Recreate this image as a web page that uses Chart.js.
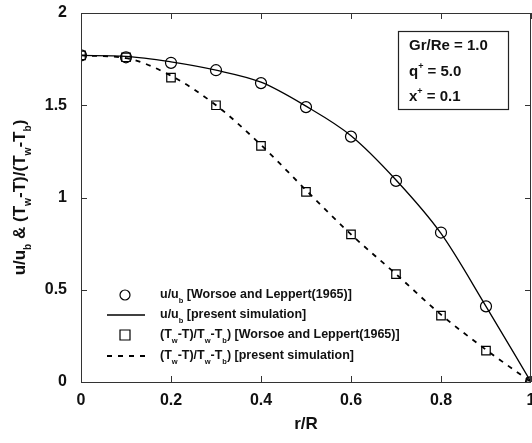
<!DOCTYPE html>
<html>
<head>
<meta charset="utf-8">
<script src="https://cdn.jsdelivr.net/npm/chart.js@4/dist/chart.umd.min.js"></script>
<style>
  html, body { margin: 0; padding: 0; background: #ffffff; }
  #wrap { width: 532px; height: 443px; }
</style>
</head>
<body>
<div id="wrap"><canvas id="c" width="532" height="443"></canvas></div>
<script>
// Radial position r/R
const rPos = [0, 0.1, 0.2, 0.3, 0.4, 0.5, 0.6, 0.7, 0.8, 0.9, 1.0];

// Velocity u/u_b: Worsoe and Leppert (1965) measurements and simulation
const uExperiment = [1.77, 1.76, 1.73, 1.69, 1.62, 1.49, 1.33, 1.09, 0.81, 0.41, 0.0];
const uSimulation = [1.77, 1.765, 1.735, 1.69, 1.625, 1.495, 1.335, 1.095, 0.805, 0.41, 0.0];

// Temperature (Tw-T)/(Tw-Tb): measurements and simulation
const tExperiment = [1.77, 1.76, 1.65, 1.50, 1.28, 1.03, 0.80, 0.585, 0.36, 0.17, 0.0];
const tSimulation = [1.77, 1.755, 1.66, 1.50, 1.285, 1.04, 0.80, 0.585, 0.365, 0.175, 0.0];

// Axis ticks
const xTicks = [0, 0.2, 0.4, 0.6, 0.8, 1];
const yTicks = [0, 0.5, 1, 1.5, 2];

// Parameter box lines: [text, mode] segments
const paramLines = [
  [["Gr/Re = 1.0", "n"]],
  [["q", "n"], ["+", "sup"], [" = 5.0", "n"]],
  [["x", "n"], ["+", "sup"], [" = 0.1", "n"]]
];

// Legend labels with sub/superscript segments
const legendLabels = [
  [["u/u", "n"], ["b", "sub"], [" [Worsoe and Leppert(1965)]", "n"]],
  [["u/u", "n"], ["b", "sub"], [" [present simulation]", "n"]],
  [["(T", "n"], ["w", "sub"], ["-T)/T", "n"], ["w", "sub"], ["-T", "n"], ["b", "sub"], [") [Worsoe and Leppert(1965)]", "n"]],
  [["(T", "n"], ["w", "sub"], ["-T)/T", "n"], ["w", "sub"], ["-T", "n"], ["b", "sub"], [") [present simulation]", "n"]]
];

const yTitle = [["u/u", "n"], ["b", "sub"], [" & (T", "n"], ["w", "sub"], ["-T)/(T", "n"], ["w", "sub"], ["-T", "n"], ["b", "sub"], [")", "n"]];
const xTitle = "r/R";

const FONT = '"Liberation Sans", Arial, Helvetica, sans-serif';
const INK = '#111111';

const pts = (ys) => rPos.map((x, i) => ({ x: x, y: ys[i] }));

function richWidth(ctx, parts, size) {
  let w = 0;
  for (const [t, m] of parts) {
    const s = m === 'n' ? size : size * 0.6;
    ctx.font = 'bold ' + s + 'px ' + FONT;
    w += ctx.measureText(t).width;
  }
  return w;
}

function drawRich(ctx, x, y, parts, size, align) {
  const total = richWidth(ctx, parts, size);
  let cx = align === 'center' ? x - total / 2 : x;
  ctx.textBaseline = 'middle';
  ctx.textAlign = 'left';
  ctx.fillStyle = INK;
  for (const [t, m] of parts) {
    const s = m === 'n' ? size : size * 0.6;
    ctx.font = 'bold ' + s + 'px ' + FONT;
    let dy = 0;
    if (m === 'sub') dy = size * 0.5;
    if (m === 'sup') dy = -size * 0.35;
    ctx.fillText(t, cx, y + dy);
    cx += ctx.measureText(t).width;
  }
}

const decorations = {
  id: 'decorations',
  afterDraw(chart) {
    const ctx = chart.ctx;
    const { left, right, top, bottom } = chart.chartArea;
    const xs = chart.scales.x, ys = chart.scales.y;
    ctx.save();

    // frame
    ctx.strokeStyle = '#333333';
    ctx.lineWidth = 1;
    ctx.strokeRect(left + 0.5, top + 0.5, right - left - 1, bottom - top);

    // inward ticks on all four sides
    ctx.beginPath();
    for (const v of xTicks) {
      const px = Math.round(xs.getPixelForValue(v)) + 0.5;
      ctx.moveTo(px, bottom); ctx.lineTo(px, bottom - 6);
      ctx.moveTo(px, top); ctx.lineTo(px, top + 6);
    }
    for (const v of yTicks) {
      const py = Math.round(ys.getPixelForValue(v)) + 0.5;
      ctx.moveTo(left, py); ctx.lineTo(left + 6, py);
      ctx.moveTo(right, py); ctx.lineTo(right - 6, py);
    }
    ctx.stroke();

    // x tick labels (the last one runs off the canvas edge)
    ctx.fillStyle = INK;
    ctx.font = 'bold 16px ' + FONT;
    ctx.textAlign = 'center';
    ctx.textBaseline = 'middle';
    for (const v of xTicks) {
      ctx.fillText(String(v), xs.getPixelForValue(v), bottom + 19);
    }

    // parameter box
    ctx.strokeStyle = '#222222';
    ctx.lineWidth = 1.2;
    ctx.strokeRect(398.5, 31.5, 110, 78);
    paramLines.forEach((parts, i) => drawRich(ctx, 409, 46 + i * 25.5, parts, 15, 'left'));

    // legend
    const ds = chart.data.datasets;
    const rowsY = [295, 315, 335, 356];
    rowsY.forEach((ry, i) => {
      const d = ds[i];
      ctx.strokeStyle = '#000000';
      if (d.showLine === false) {
        ctx.lineWidth = 1.2;
        ctx.beginPath();
        if (d.pointStyle === 'circle') {
          ctx.arc(125, ry, 5, 0, Math.PI * 2);
        } else {
          ctx.rect(120, ry - 5, 10, 10);
        }
        ctx.stroke();
      } else {
        ctx.lineWidth = d.borderWidth;
        ctx.setLineDash(d.borderDash || []);
        ctx.beginPath();
        ctx.moveTo(107, ry); ctx.lineTo(145, ry);
        ctx.stroke();
        ctx.setLineDash([]);
      }
      drawRich(ctx, 160, ry, legendLabels[i], 12.5, 'left');
    });

    // axis titles
    ctx.fillStyle = INK;
    ctx.font = 'bold 17px ' + FONT;
    ctx.textAlign = 'center';
    ctx.textBaseline = 'middle';
    ctx.fillText(xTitle, (left + right) / 2, 424);

    ctx.translate(20, (top + bottom) / 2);
    ctx.rotate(-Math.PI / 2);
    drawRich(ctx, 0, 0, yTitle, 17, 'center');

    ctx.restore();
  }
};

new Chart(document.getElementById('c'), {
  type: 'line',
  data: {
    datasets: [
      {
        label: 'u/u_b [Worsoe and Leppert(1965)]',
        data: pts(uExperiment),
        showLine: false,
        pointStyle: 'circle',
        pointRadius: 5.5,
        pointBorderWidth: 1.2,
        pointBorderColor: '#000000',
        pointBackgroundColor: 'rgba(255,255,255,0)'
      },
      {
        label: 'u/u_b [present simulation]',
        data: pts(uSimulation),
        borderColor: '#000000',
        borderWidth: 1.3,
        pointRadius: 0,
        cubicInterpolationMode: 'monotone'
      },
      {
        label: '(Tw-T)/Tw-Tb) [Worsoe and Leppert(1965)]',
        data: pts(tExperiment),
        showLine: false,
        pointStyle: 'rect',
        pointRadius: 6,
        pointBorderWidth: 1.2,
        pointBorderColor: '#000000',
        pointBackgroundColor: 'rgba(255,255,255,0)'
      },
      {
        label: '(Tw-T)/Tw-Tb) [present simulation]',
        data: pts(tSimulation),
        borderColor: '#000000',
        borderWidth: 1.8,
        borderDash: [5, 6],
        pointRadius: 0,
        cubicInterpolationMode: 'monotone'
      }
    ]
  },
  options: {
    responsive: false,
    animation: false,
    devicePixelRatio: 1,
    layout: { autoPadding: false, padding: { left: 0, right: 1, top: 13, bottom: 0 } },
    plugins: {
      legend: { display: false },
      tooltip: { enabled: false },
      title: { display: false }
    },
    scales: {
      x: {
        type: 'linear',
        min: 0, max: 1,
        afterBuildTicks(scale) { scale.ticks = xTicks.map(v => ({ value: v })); },
        afterFit(scale) { scale.height = 61; scale.paddingLeft = 0; scale.paddingRight = 0; },
        grid: { display: false, drawTicks: false },
        border: { display: false },
        ticks: { display: false }
      },
      y: {
        type: 'linear',
        min: 0, max: 2,
        afterBuildTicks(scale) { scale.ticks = yTicks.map(v => ({ value: v })); },
        afterFit(scale) { scale.width = 81; scale.paddingTop = 0; scale.paddingBottom = 0; },
        grid: { display: false, drawTicks: false },
        border: { display: false },
        ticks: {
          padding: 14,
          color: INK,
          font: { family: FONT, size: 16, weight: 'bold' },
          autoSkip: false,
          callback: (v) => String(v)
        }
      }
    }
  },
  plugins: [decorations]
});
</script>
</body>
</html>
